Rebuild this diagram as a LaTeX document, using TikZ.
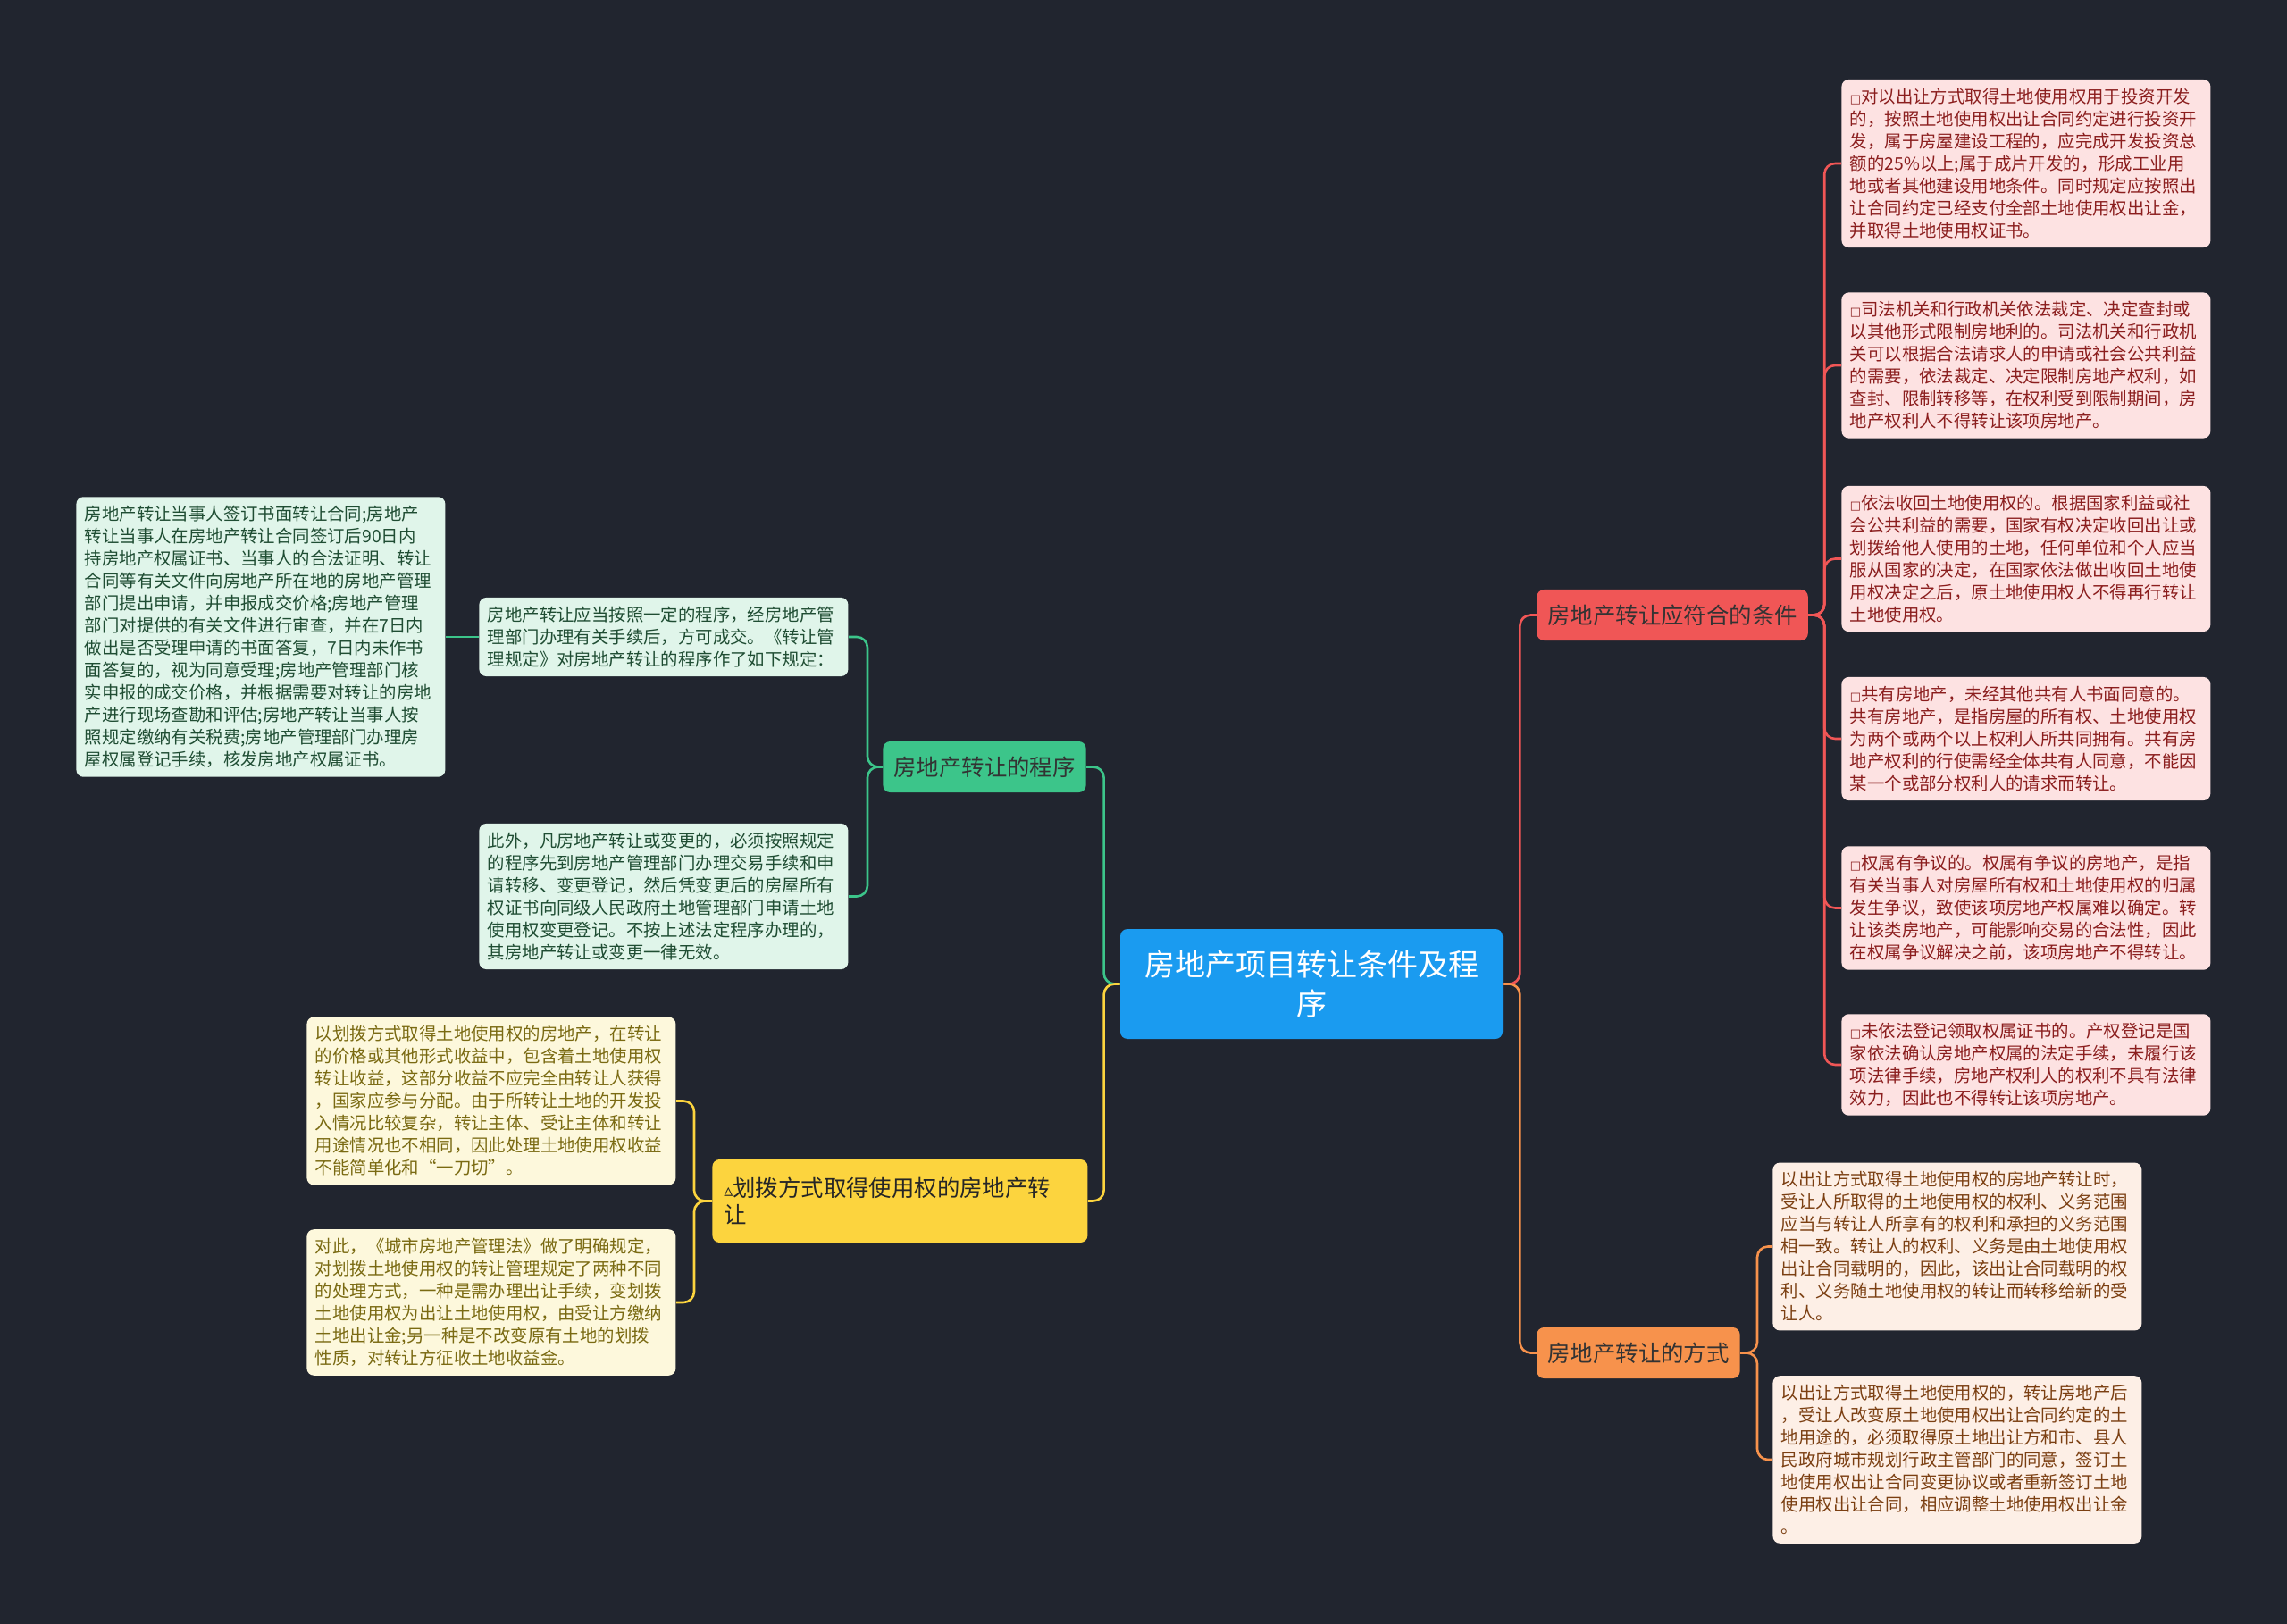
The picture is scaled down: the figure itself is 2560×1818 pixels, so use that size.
\documentclass[tikz,border=0pt]{standalone}
\usepackage{fontspec}
\setmainfont{Noto Sans CJK SC}
\newfontfamily\symfont{DejaVu Sans}

\definecolor{bgcol}{HTML}{21252F}
\definecolor{rootcol}{HTML}{1A9BF0}
\definecolor{redbr}{HTML}{F05656}
\definecolor{orbr}{HTML}{F7924C}
\definecolor{grbr}{HTML}{3CC58A}
\definecolor{yebr}{HTML}{FCD43E}
\definecolor{redleafbg}{HTML}{FDE2E2}
\definecolor{redleaftx}{HTML}{8B1E1E}
\definecolor{orleafbg}{HTML}{FDEFE6}
\definecolor{orleaftx}{HTML}{7B3F12}
\definecolor{grleafbg}{HTML}{E0F5EA}
\definecolor{grleaftx}{HTML}{1F4D33}
\definecolor{yeleafbg}{HTML}{FDF8DC}
\definecolor{yeleaftx}{HTML}{7A6A12}

\newcommand{\boxmark}{{\symfont\fontsize{6.5}{6.5}\selectfont □}}
\newcommand{\trimark}{{\symfont\fontsize{10}{10}\selectfont ▵}}

\begin{document}
\begin{tikzpicture}[x=0.5pt,y=-0.5pt,
    leaf/.style={rounded corners=4pt, anchor=west, text width=197pt, inner xsep=4.75pt,
      inner ysep=5pt, align=left, font=\fontsize{9.7}{12.5}\selectfont},
    redleaf/.style={leaf, fill=redleafbg, text=redleaftx},
    orleaf/.style={leaf, fill=orleafbg, text=orleaftx},
    grleaf/.style={leaf, fill=grleafbg, text=grleaftx},
    yeleaf/.style={leaf, fill=yeleafbg, text=yeleaftx},
    branch/.style={rounded corners=4pt, anchor=west, minimum height=28.5pt, inner xsep=6pt,
      font=\fontsize{12.7}{15}\selectfont},
    rootbox/.style={rounded corners=4pt, fill=rootcol, text=white, text width=200pt,
      inner xsep=7pt, minimum height=61.5pt, align=center, font=\fontsize{17}{22}\selectfont},
    link/.style={line width=1.3pt, rounded corners=6pt}]

  \fill[bgcol] (0,0) rectangle (2560,1818);
  \useasboundingbox (0,0) rectangle (2560,1818);

  % centre and main branches
  \node[rootbox] (root) at (1468,1101.5) {房地产项目转让条件及程\\序};
  \node[branch, fill=redbr, text=black!80] (cond) at (1720,688.5) {房地产转让应符合的条件};
  \node[branch, fill=orbr, text=black!80] (mode) at (1720,1514.5) {房地产转让的方式};
  \node[branch, fill=grbr, text=black!80] (proc) at (988,858.5) {房地产转让的程序};
  \node[branch, fill=yebr, text=black!85, text width=197pt, align=left, inner xsep=6.5pt,
    minimum height=46.5pt] (alloc) at (797,1344.5) {\trimark 划拨方式取得使用权的房地产转\\让};

  % conditions
  \node[redleaf] (c1) at (2061,183) {\boxmark 对以出让方式取得土地使用权用于投资开发\\的，按照土地使用权出让合同约定进行投资开\\发，属于房屋建设工程的，应完成开发投资总\\额的25\%以上;属于成片开发的，形成工业用\\地或者其他建设用地条件。同时规定应按照出\\让合同约定已经支付全部土地使用权出让金，\\并取得土地使用权证书。};
  \node[redleaf] (c2) at (2061,409) {\boxmark 司法机关和行政机关依法裁定、决定查封或\\以其他形式限制房地利的。司法机关和行政机\\关可以根据合法请求人的申请或社会公共利益\\的需要，依法裁定、决定限制房地产权利，如\\查封、限制转移等，在权利受到限制期间，房\\地产权利人不得转让该项房地产。};
  \node[redleaf] (c3) at (2061,625.5) {\boxmark 依法收回土地使用权的。根据国家利益或社\\会公共利益的需要，国家有权决定收回出让或\\划拨给他人使用的土地，任何单位和个人应当\\服从国家的决定，在国家依法做出收回土地使\\用权决定之后，原土地使用权人不得再行转让\\土地使用权。};
  \node[redleaf] (c4) at (2061,827) {\boxmark 共有房地产，未经其他共有人书面同意的。\\共有房地产，是指房屋的所有权、土地使用权\\为两个或两个以上权利人所共同拥有。共有房\\地产权利的行使需经全体共有人同意，不能因\\某一个或部分权利人的请求而转让。};
  \node[redleaf] (c5) at (2061,1016.5) {\boxmark 权属有争议的。权属有争议的房地产，是指\\有关当事人对房屋所有权和土地使用权的归属\\发生争议，致使该项房地产权属难以确定。转\\让该类房地产，可能影响交易的合法性，因此\\在权属争议解决之前，该项房地产不得转让。};
  \node[redleaf] (c6) at (2061,1192) {\boxmark 未依法登记领取权属证书的。产权登记是国\\家依法确认房地产权属的法定手续，未履行该\\项法律手续，房地产权利人的权利不具有法律\\效力，因此也不得转让该项房地产。};

  % ways of transfer
  \node[orleaf] (m1) at (1984,1395.5) {以出让方式取得土地使用权的房地产转让时，\\受让人所取得的土地使用权的权利、义务范围\\应当与转让人所享有的权利和承担的义务范围\\相一致。转让人的权利、义务是由土地使用权\\出让合同载明的，因此，该出让合同载明的权\\利、义务随土地使用权的转让而转移给新的受\\让人。};
  \node[orleaf] (m2) at (1984,1634) {以出让方式取得土地使用权的，转让房地产后\\，受让人改变原土地使用权出让合同约定的土\\地用途的，必须取得原土地出让方和市、县人\\民政府城市规划行政主管部门的同意，签订土\\地使用权出让合同变更协议或者重新签订土地\\使用权出让合同，相应调整土地使用权出让金\\。};

  % procedure
  \node[grleaf] (p1) at (536,713) {房地产转让应当按照一定的程序，经房地产管\\理部门办理有关手续后，方可成交。《转让管\\理规定》对房地产转让的程序作了如下规定：};
  \node[grleaf] (p2) at (536,1003.5) {此外，凡房地产转让或变更的，必须按照规定\\的程序先到房地产管理部门办理交易手续和申\\请转移、变更登记，然后凭变更后的房屋所有\\权证书向同级人民政府土地管理部门申请土地\\使用权变更登记。不按上述法定程序办理的，\\其房地产转让或变更一律无效。};
  \node[grleaf] (p0) at (85,713) {房地产转让当事人签订书面转让合同;房地产\\转让当事人在房地产转让合同签订后90日内\\持房地产权属证书、当事人的合法证明、转让\\合同等有关文件向房地产所在地的房地产管理\\部门提出申请，并申报成交价格;房地产管理\\部门对提供的有关文件进行审查，并在7日内\\做出是否受理申请的书面答复，7日内未作书\\面答复的，视为同意受理;房地产管理部门核\\实申报的成交价格，并根据需要对转让的房地\\产进行现场查勘和评估;房地产转让当事人按\\照规定缴纳有关税费;房地产管理部门办理房\\屋权属登记手续，核发房地产权属证书。};

  % allocated land
  \node[yeleaf] (a1) at (343,1232.5) {以划拨方式取得土地使用权的房地产，在转让\\的价格或其他形式收益中，包含着土地使用权\\转让收益，这部分收益不应完全由转让人获得\\，国家应参与分配。由于所转让土地的开发投\\入情况比较复杂，转让主体、受让主体和转让\\用途情况也不相同，因此处理土地使用权收益\\不能简单化和“一刀切”。};
  \node[yeleaf] (a2) at (343,1458) {对此，《城市房地产管理法》做了明确规定，\\对划拨土地使用权的转让管理规定了两种不同\\的处理方式，一种是需办理出让手续，变划拨\\土地使用权为出让土地使用权，由受让方缴纳\\土地出让金;另一种是不改变原有土地的划拨\\性质，对转让方征收土地收益金。};

  % connectors
  \draw[link, redbr] (root.east) -- ++(19,0) |- (cond.west);
  \draw[link, orbr] (root.east) -- ++(19,0) |- (mode.west);
  \draw[link, grbr] (root.west) -- ++(-18,0) |- (proc.east);
  \draw[link, yebr] (root.west) -- ++(-18,0) |- (alloc.east);

  \draw[link, redbr] (cond.east) -- ++(18,0) |- (c1.west);
  \draw[link, redbr] (cond.east) -- ++(18,0) |- (c2.west);
  \draw[link, redbr] (cond.east) -- ++(18,0) |- (c3.west);
  \draw[link, redbr] (cond.east) -- ++(18,0) |- (c4.west);
  \draw[link, redbr] (cond.east) -- ++(18,0) |- (c5.west);
  \draw[link, redbr] (cond.east) -- ++(18,0) |- (c6.west);

  \draw[link, orbr] (mode.east) -- ++(19,0) |- (m1.west);
  \draw[link, orbr] (mode.east) -- ++(19,0) |- (m2.west);

  \draw[link, grbr] (proc.west) -- ++(-17,0) |- (p1.east);
  \draw[link, grbr] (proc.west) -- ++(-17,0) |- (p2.east);
  \draw[link, grbr] (p1.west) -- (p0.east);

  \draw[link, yebr] (alloc.west) -- ++(-20,0) |- (a1.east);
  \draw[link, yebr] (alloc.west) -- ++(-20,0) |- (a2.east);
\end{tikzpicture}
\end{document}
